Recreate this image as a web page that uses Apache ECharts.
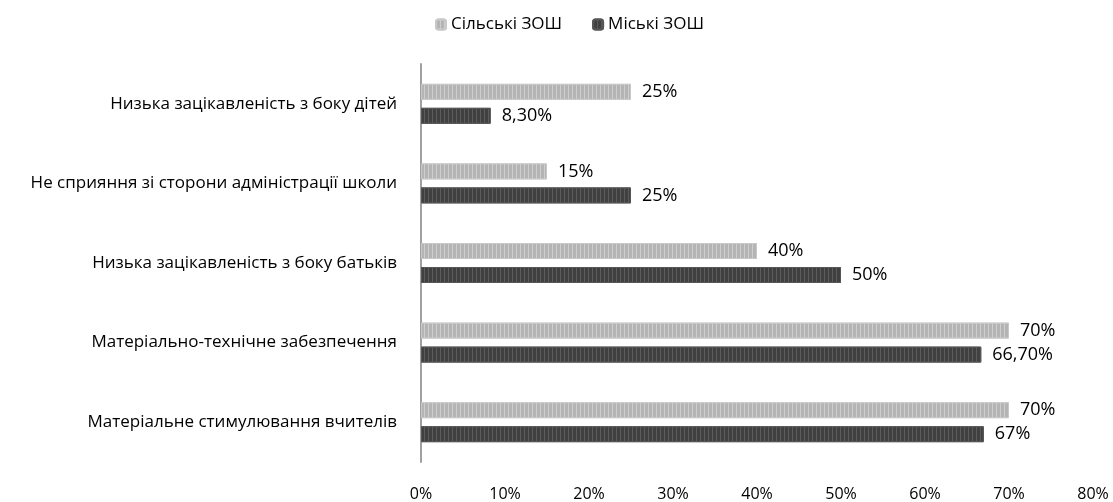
<!DOCTYPE html>
<html><head><meta charset="utf-8">
<script src="https://cdn.jsdelivr.net/npm/echarts@6/dist/echarts.min.js"></script>
<style>html,body{margin:0;padding:0;background:#fff}#c{width:1113px;height:502px}</style>
</head><body><div id="c"></div>
<script>
const categories = [
  "Низька зацікавленість з боку дітей",
  "Не сприяння зі сторони адміністрації школи",
  "Низька зацікавленість з боку батьків",
  "Матеріально-технічне забезпечення",
  "Матеріальне стимулювання вчителів"
];
const seriesNames = ["Сільські ЗОШ", "Міські ЗОШ"];
const rural = [25, 15, 40, 70, 70];
const urban = [8.3, 25, 50, 66.7, 67];
const ruralLabels = ["25%", "15%", "40%", "70%", "70%"];
const urbanLabels = ["8,30%", "25%", "50%", "66,70%", "67%"];
const xTicks = [0, 10, 20, 30, 40, 50, 60, 70, 80];

const font = "'Open Sans', sans-serif";
const chart = echarts.init(document.getElementById('c'));
function mkSeries(name, data, labels, color, border, stripe) {
  return {
    name, type: 'bar', data, barWidth: 16, barGap: '50%',
    itemStyle: {
      color, borderColor: border, borderWidth: 1,
      decal: { symbol: 'rect', symbolSize: 1, dashArrayX: [[1, 3]], dashArrayY: [20, 0], color: stripe, rotation: 0 }
    },
    label: {
      show: true, position: 'right', distance: 11,
      formatter: p => labels[p.dataIndex],
      fontFamily: font, fontSize: 18, color: '#000'
    }
  };
}
chart.setOption({
  animation: false,
  legend: {
    top: 11, left: 430, itemWidth: 10, itemHeight: 10, itemGap: 30,
    textStyle: { fontFamily: font, fontSize: 17, color: '#000' },
    data: seriesNames
  },
  grid: { left: 421, right: 20, top: 64, bottom: 38, containLabel: false },
  xAxis: {
    type: 'value', min: 0, max: 80, interval: 10,
    axisLine: { show: false }, axisTick: { show: false }, splitLine: { show: false },
    axisLabel: { margin: 24, fontFamily: font, fontSize: 16, color: '#000', formatter: v => v + '%' }
  },
  yAxis: {
    type: 'category', inverse: true, data: categories,
    axisLine: { show: true, lineStyle: { color: '#a0a0a0', width: 2 } },
    axisTick: { show: false },
    axisLabel: { margin: 24, fontFamily: font, fontSize: 17, color: '#000' }
  },
  series: [
    mkSeries(seriesNames[0], rural, ruralLabels, '#b4b4b4', '#c8c8c8', 'rgba(255,255,255,0.35)'),
    mkSeries(seriesNames[1], urban, urbanLabels, '#404040', '#555555', 'rgba(120,120,120,0.5)')
  ]
});
</script></body></html>
